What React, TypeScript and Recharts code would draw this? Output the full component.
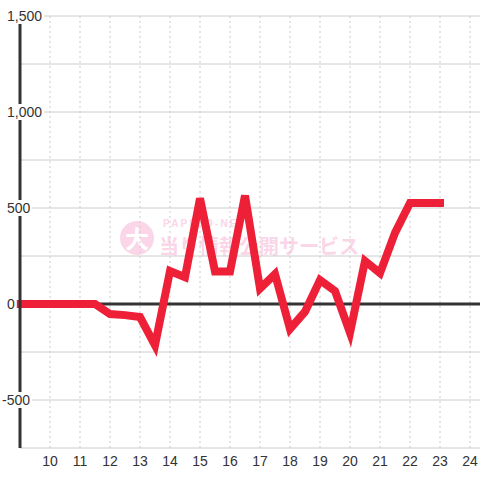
import React from 'react';
import { LineChart, Line, XAxis, YAxis, CartesianGrid, ReferenceLine } from 'recharts';

// half-hour readings, 9:00 .. 23:00
const hours = [9, 9.5, 10, 10.5, 11, 11.5, 12, 12.5, 13, 13.5, 14, 14.5, 15, 15.5, 16, 16.5, 17, 17.5, 18, 18.5, 19, 19.5, 20, 20.5, 21, 21.5, 22, 22.5, 23];
const diff = [0, 0, 0, 0, 0, 0, -52, -58, -68, -215, 172, 140, 550, 169, 169, 565, 80, 156, -130, -40, 125, 68, -150, 224, 161, 370, 526, 526, 526];

const xTicks = [10, 11, 12, 13, 14, 15, 16, 17, 18, 19, 20, 21, 22, 23, 24];
const yTicks = [-750, -500, -250, 0, 250, 500, 750, 1000, 1250, 1500];

const data = hours.map((h, i) => ({ h, v: diff[i] }));

const FONT = '"Liberation Sans", Arial, sans-serif';

const charW = (s: string) =>
  s.split('').reduce((w, c) => w + (c === ',' ? 3.9 : c === '-' ? 4.7 : 7.8), 0);

const YTick = (props: any) => {
  const { y, payload } = props;
  const v = payload.value;
  if (v % 500 !== 0) return <g />;
  const label = v.toLocaleString('en-US');
  const x0 = v < 0 ? 2 : 7;
  const w = charW(label);
  return (
    <g>
      <rect x={x0 - 2} y={y - 8} width={w + 4} height={16} fill="#fff" />
      <text x={x0} y={y} dy="0.35em" textAnchor="start" fontSize={14} fill="#333" fontFamily={FONT}>
        {label}
      </text>
    </g>
  );
};

const Watermark = () => (
  <div style={{ position: 'absolute', left: 0, top: 0, width: 480, height: 480, pointerEvents: 'none' }}>
    <div style={{ position: 'absolute', left: 120, top: 221, width: 34, height: 34, borderRadius: 17, background: '#fbd6e8', color: '#fff', fontFamily: '"Noto Sans CJK JP"', fontWeight: 700, fontSize: 24, lineHeight: '34px', textAlign: 'center' }}>大</div>
    <div style={{ position: 'absolute', left: 163, top: 219, fontFamily: FONT, fontWeight: 700, fontSize: 10, lineHeight: '10px', letterSpacing: 2.2, color: '#fbd6e8' }}>PAPIMO-NET</div>
    <div style={{ position: 'absolute', left: 159, top: 236, fontFamily: '"Noto Sans CJK JP"', fontWeight: 700, fontSize: 20, lineHeight: '20px', color: '#fbd6e8', whiteSpace: 'nowrap' }}>当り情報公開サービス</div>
  </div>
);

export default function App() {
  return (
    <div style={{ position: 'absolute', left: 0, top: 0, width: 480, height: 480, background: '#fff' }}>
      <Watermark />
      <div style={{ position: 'absolute', left: 0, top: 0 }}>
        <LineChart width={480} height={480} data={data} margin={{ top: 16, right: 0, left: 0, bottom: 0 }}>
          <CartesianGrid horizontal={false} verticalValues={xTicks} stroke="#ccc" strokeDasharray="2 3" />
          <CartesianGrid vertical={false} horizontalValues={yTicks} stroke="#ccc" />
          <XAxis
            dataKey="h"
            type="number"
            domain={[9, 24.3333]}
            ticks={xTicks}
            interval={0}
            axisLine={false}
            tickLine={false}
            height={32}
            tick={{ fontSize: 14, fill: '#333', fontFamily: FONT }}
          />
          <YAxis
            type="number"
            domain={[-750, 1500]}
            ticks={yTicks}
            interval={0}
            width={20}
            axisLine={{ stroke: '#333', strokeWidth: 3 }}
            tickLine={false}
            tick={<YTick />}
          />
          <ReferenceLine y={0} stroke="#333" strokeWidth={3} />
          <Line
            dataKey="v"
            stroke="#ee2037"
            strokeWidth={8}
            strokeLinecap="square"
            dot={false}
            activeDot={false}
            isAnimationActive={false}
          />
        </LineChart>
      </div>
    </div>
  );
}
